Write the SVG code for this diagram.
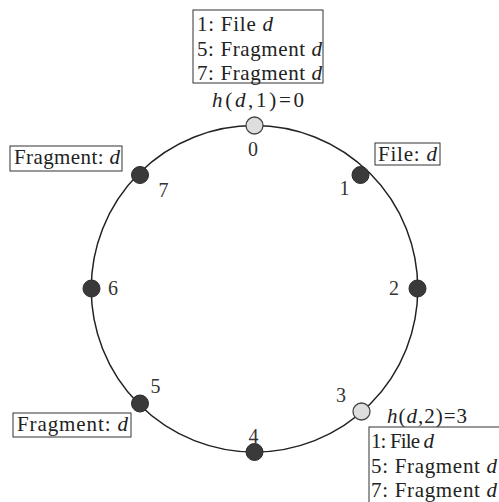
<svg xmlns="http://www.w3.org/2000/svg" width="499" height="502" viewBox="0 0 499 502">
<style>
text{font-family:"Liberation Serif","Times New Roman",serif;font-size:21px;fill:#222}
.lbl{fill:#333;text-anchor:middle;font-size:20px}
.it{font-style:italic}
.box{fill:#fff;stroke:#333;stroke-width:1}
.dark{fill:#3a3a3a;stroke:#2a2a2a;stroke-width:1}
.light{fill:#dedede;stroke:#444;stroke-width:1.3}
.ring{fill:none;stroke:#222;stroke-width:1.5}
</style>
<rect width="499" height="502" fill="#fff"/>
<g id="connectors">
<circle class="ring" cx="254.5" cy="288.8" r="163.3"/>
</g>
<g id="node0">
<circle class="light" cx="254.5" cy="125.5" r="8.5"/>
<text class="lbl" x="253" y="156">0</text>
<text x="212" y="107" textLength="92" lengthAdjust="spacing"><tspan class="it">h</tspan>(<tspan class="it">d</tspan>,1)=0</text>
<rect class="box" x="193" y="10" width="130" height="73"/>
<text x="197" y="31" textLength="76" lengthAdjust="spacing">1: File <tspan class="it">d</tspan></text>
<text x="197" y="55.5" textLength="125" lengthAdjust="spacing">5: Fragment <tspan class="it">d</tspan></text>
<text x="197" y="80" textLength="125" lengthAdjust="spacing">7: Fragment <tspan class="it">d</tspan></text>
</g>
<g id="node1">
<circle class="dark" cx="360.5" cy="175" r="8.5"/>
<text class="lbl" x="344.5" y="195">1</text>
<rect class="box" x="375" y="143" width="65" height="22"/>
<text x="378" y="160.5" textLength="59" lengthAdjust="spacing">File: <tspan class="it">d</tspan></text>
</g>
<g id="node2">
<circle class="dark" cx="417.5" cy="288.5" r="8.5"/>
<text class="lbl" x="394" y="295">2</text>
</g>
<g id="node3">
<circle class="light" cx="361.5" cy="411.5" r="8.5"/>
<text class="lbl" x="341" y="402">3</text>
<text x="387" y="423" textLength="80" lengthAdjust="spacing"><tspan class="it">h</tspan>(<tspan class="it">d</tspan>,2)=3</text>
<rect class="box" x="369" y="427" width="135" height="85"/>
<text x="371" y="448" textLength="63" lengthAdjust="spacing">1: File <tspan class="it">d</tspan></text>
<text x="371" y="473" textLength="126" lengthAdjust="spacing">5: Fragment <tspan class="it">d</tspan></text>
<text x="371" y="497" textLength="126" lengthAdjust="spacing">7: Fragment <tspan class="it">d</tspan></text>
</g>
<g id="node4">
<circle class="dark" cx="254.5" cy="452" r="8.5"/>
<text class="lbl" x="253.5" y="443">4</text>
</g>
<g id="node5">
<circle class="dark" cx="140" cy="403.5" r="8.5"/>
<text class="lbl" x="155.5" y="393">5</text>
<rect class="box" x="13" y="413" width="118" height="24"/>
<text x="17" y="431" textLength="111" lengthAdjust="spacing">Fragment: <tspan class="it">d</tspan></text>
</g>
<g id="node6">
<circle class="dark" cx="91.5" cy="288.5" r="8.5"/>
<text class="lbl" x="113" y="295">6</text>
</g>
<g id="node7">
<circle class="dark" cx="140" cy="175" r="8.5"/>
<text class="lbl" x="163.5" y="197">7</text>
<rect class="box" x="10" y="146" width="112" height="25"/>
<text x="14" y="164" textLength="106" lengthAdjust="spacing">Fragment: <tspan class="it">d</tspan></text>
</g>
</svg>
